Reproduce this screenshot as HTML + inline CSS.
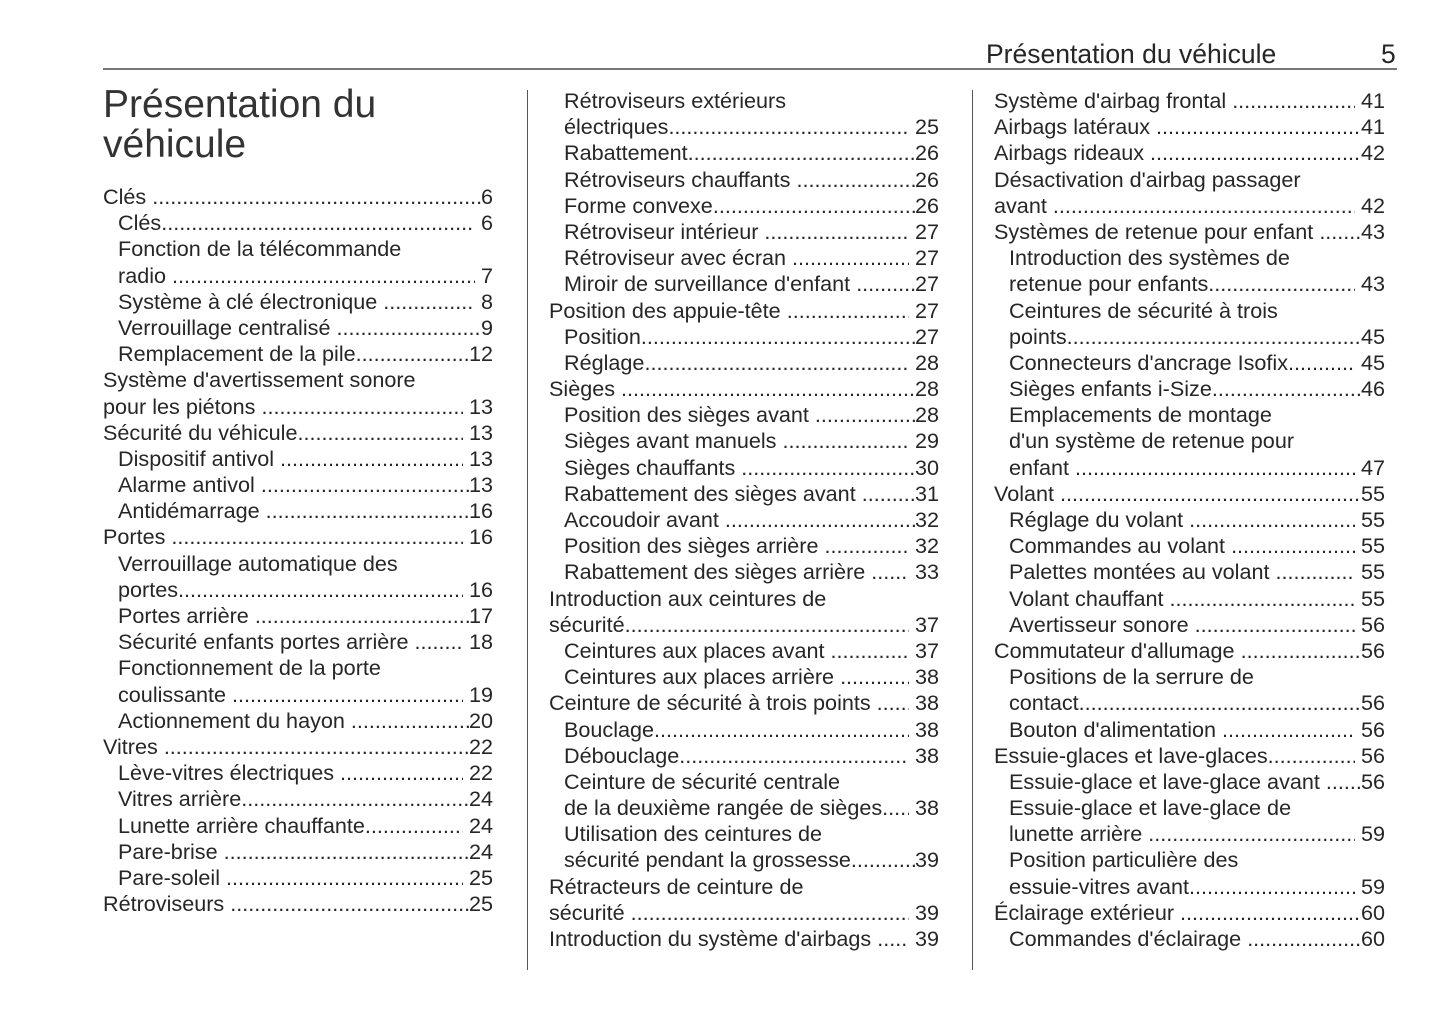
<!DOCTYPE html><html><head><meta charset="utf-8"><style>
body{margin:0;width:1445px;height:1018px;background:#fff;position:relative;overflow:hidden;font-family:"Liberation Sans",sans-serif;color:#262626}
.h{position:absolute;font-size:26.5px;top:39px;line-height:30px}
.t{position:absolute;left:103px;top:85px;font-size:39px;line-height:40px;color:#333}
.c{position:absolute;font-size:21.6px;line-height:26.2px}
.l{display:flex;white-space:nowrap;height:26.2px}
.l.i{padding-left:15px}
.d{flex:1;overflow:hidden;white-space:nowrap}
.d::after{content:"...................................................................................................................................................";}
.vr{position:absolute;width:1px;background:#555;top:90px;height:880px}
</style></head><body>
<div class="h" style="left:986px">Présentation du véhicule</div>
<div class="h" style="left:1381px">5</div>
<div style="position:absolute;left:103px;top:68px;width:1294px;height:2px;background:#777"></div>
<div class="t">Présentation du<br>véhicule</div>
<div class="vr" style="left:527px"></div>
<div class="vr" style="left:972px"></div>

<div class="c" style="left:103px;top:184px;width:390px">
<div class="l">Clés&nbsp;<span class="d"></span>6</div>
<div class="l i">Clés<span class="d"></span>&nbsp;6</div>
<div class="l i">Fonction de la télécommande</div>
<div class="l i">radio&nbsp;<span class="d"></span>&nbsp;7</div>
<div class="l i">Système à clé électronique&nbsp;<span class="d"></span>&nbsp;8</div>
<div class="l i">Verrouillage centralisé&nbsp;<span class="d"></span>9</div>
<div class="l i">Remplacement de la pile<span class="d"></span>12</div>
<div class="l">Système d'avertissement sonore</div>
<div class="l">pour les piétons&nbsp;<span class="d"></span>&nbsp;13</div>
<div class="l">Sécurité du véhicule<span class="d"></span>&nbsp;13</div>
<div class="l i">Dispositif antivol&nbsp;<span class="d"></span>&nbsp;13</div>
<div class="l i">Alarme antivol&nbsp;<span class="d"></span>13</div>
<div class="l i">Antidémarrage&nbsp;<span class="d"></span>16</div>
<div class="l">Portes&nbsp;<span class="d"></span>&nbsp;16</div>
<div class="l i">Verrouillage automatique des</div>
<div class="l i">portes<span class="d"></span>&nbsp;16</div>
<div class="l i">Portes arrière&nbsp;<span class="d"></span>17</div>
<div class="l i">Sécurité enfants portes arrière&nbsp;<span class="d"></span>&nbsp;18</div>
<div class="l i">Fonctionnement de la porte</div>
<div class="l i">coulissante&nbsp;<span class="d"></span>&nbsp;19</div>
<div class="l i">Actionnement du hayon&nbsp;<span class="d"></span>20</div>
<div class="l">Vitres&nbsp;<span class="d"></span>22</div>
<div class="l i">Lève-vitres électriques&nbsp;<span class="d"></span>&nbsp;22</div>
<div class="l i">Vitres arrière<span class="d"></span>24</div>
<div class="l i">Lunette arrière chauffante<span class="d"></span>&nbsp;24</div>
<div class="l i">Pare-brise&nbsp;<span class="d"></span>24</div>
<div class="l i">Pare-soleil&nbsp;<span class="d"></span>&nbsp;25</div>
<div class="l">Rétroviseurs&nbsp;<span class="d"></span>25</div>
</div>

<div class="c" style="left:549px;top:88px;width:390px">
<div class="l i">Rétroviseurs extérieurs</div>
<div class="l i">électriques<span class="d"></span>&nbsp;25</div>
<div class="l i">Rabattement<span class="d"></span>26</div>
<div class="l i">Rétroviseurs chauffants&nbsp;<span class="d"></span>26</div>
<div class="l i">Forme convexe<span class="d"></span>26</div>
<div class="l i">Rétroviseur intérieur&nbsp;<span class="d"></span>&nbsp;27</div>
<div class="l i">Rétroviseur avec écran&nbsp;<span class="d"></span>&nbsp;27</div>
<div class="l i">Miroir de surveillance d'enfant&nbsp;<span class="d"></span>27</div>
<div class="l">Position des appuie-tête&nbsp;<span class="d"></span>&nbsp;27</div>
<div class="l i">Position<span class="d"></span>27</div>
<div class="l i">Réglage<span class="d"></span>&nbsp;28</div>
<div class="l">Sièges&nbsp;<span class="d"></span>28</div>
<div class="l i">Position des sièges avant&nbsp;<span class="d"></span>28</div>
<div class="l i">Sièges avant manuels&nbsp;<span class="d"></span>&nbsp;29</div>
<div class="l i">Sièges chauffants&nbsp;<span class="d"></span>30</div>
<div class="l i">Rabattement des sièges avant&nbsp;<span class="d"></span>31</div>
<div class="l i">Accoudoir avant&nbsp;<span class="d"></span>32</div>
<div class="l i">Position des sièges arrière&nbsp;<span class="d"></span>&nbsp;32</div>
<div class="l i">Rabattement des sièges arrière&nbsp;<span class="d"></span>&nbsp;33</div>
<div class="l">Introduction aux ceintures de</div>
<div class="l">sécurité<span class="d"></span>&nbsp;37</div>
<div class="l i">Ceintures aux places avant&nbsp;<span class="d"></span>&nbsp;37</div>
<div class="l i">Ceintures aux places arrière&nbsp;<span class="d"></span>&nbsp;38</div>
<div class="l">Ceinture de sécurité à trois points&nbsp;<span class="d"></span>&nbsp;38</div>
<div class="l i">Bouclage<span class="d"></span>&nbsp;38</div>
<div class="l i">Débouclage<span class="d"></span>&nbsp;38</div>
<div class="l i">Ceinture de sécurité centrale</div>
<div class="l i">de la deuxième rangée de sièges<span class="d"></span>&nbsp;38</div>
<div class="l i">Utilisation des ceintures de</div>
<div class="l i">sécurité pendant la grossesse<span class="d"></span>39</div>
<div class="l">Rétracteurs de ceinture de</div>
<div class="l">sécurité&nbsp;<span class="d"></span>&nbsp;39</div>
<div class="l">Introduction du système d'airbags&nbsp;<span class="d"></span>&nbsp;39</div>
</div>

<div class="c" style="left:994px;top:88px;width:391px">
<div class="l">Système d'airbag frontal&nbsp;<span class="d"></span>&nbsp;41</div>
<div class="l">Airbags latéraux&nbsp;<span class="d"></span>41</div>
<div class="l">Airbags rideaux&nbsp;<span class="d"></span>42</div>
<div class="l">Désactivation d'airbag passager</div>
<div class="l">avant&nbsp;<span class="d"></span>&nbsp;42</div>
<div class="l">Systèmes de retenue pour enfant&nbsp;<span class="d"></span>43</div>
<div class="l i">Introduction des systèmes de</div>
<div class="l i">retenue pour enfants<span class="d"></span>&nbsp;43</div>
<div class="l i">Ceintures de sécurité à trois</div>
<div class="l i">points<span class="d"></span>45</div>
<div class="l i">Connecteurs d'ancrage Isofix<span class="d"></span>&nbsp;45</div>
<div class="l i">Sièges enfants i-Size<span class="d"></span>46</div>
<div class="l i">Emplacements de montage</div>
<div class="l i">d'un système de retenue pour</div>
<div class="l i">enfant&nbsp;<span class="d"></span>&nbsp;47</div>
<div class="l">Volant&nbsp;<span class="d"></span>55</div>
<div class="l i">Réglage du volant&nbsp;<span class="d"></span>&nbsp;55</div>
<div class="l i">Commandes au volant&nbsp;<span class="d"></span>&nbsp;55</div>
<div class="l i">Palettes montées au volant&nbsp;<span class="d"></span>&nbsp;55</div>
<div class="l i">Volant chauffant&nbsp;<span class="d"></span>&nbsp;55</div>
<div class="l i">Avertisseur sonore&nbsp;<span class="d"></span>&nbsp;56</div>
<div class="l">Commutateur d'allumage&nbsp;<span class="d"></span>56</div>
<div class="l i">Positions de la serrure de</div>
<div class="l i">contact<span class="d"></span>56</div>
<div class="l i">Bouton d'alimentation&nbsp;<span class="d"></span>&nbsp;56</div>
<div class="l">Essuie-glaces et lave-glaces<span class="d"></span>&nbsp;56</div>
<div class="l i">Essuie-glace et lave-glace avant&nbsp;<span class="d"></span>56</div>
<div class="l i">Essuie-glace et lave-glace de</div>
<div class="l i">lunette arrière&nbsp;<span class="d"></span>&nbsp;59</div>
<div class="l i">Position particulière des</div>
<div class="l i">essuie-vitres avant<span class="d"></span>&nbsp;59</div>
<div class="l">Éclairage extérieur&nbsp;<span class="d"></span>60</div>
<div class="l i">Commandes d'éclairage&nbsp;<span class="d"></span>60</div>
</div>
</body></html>
